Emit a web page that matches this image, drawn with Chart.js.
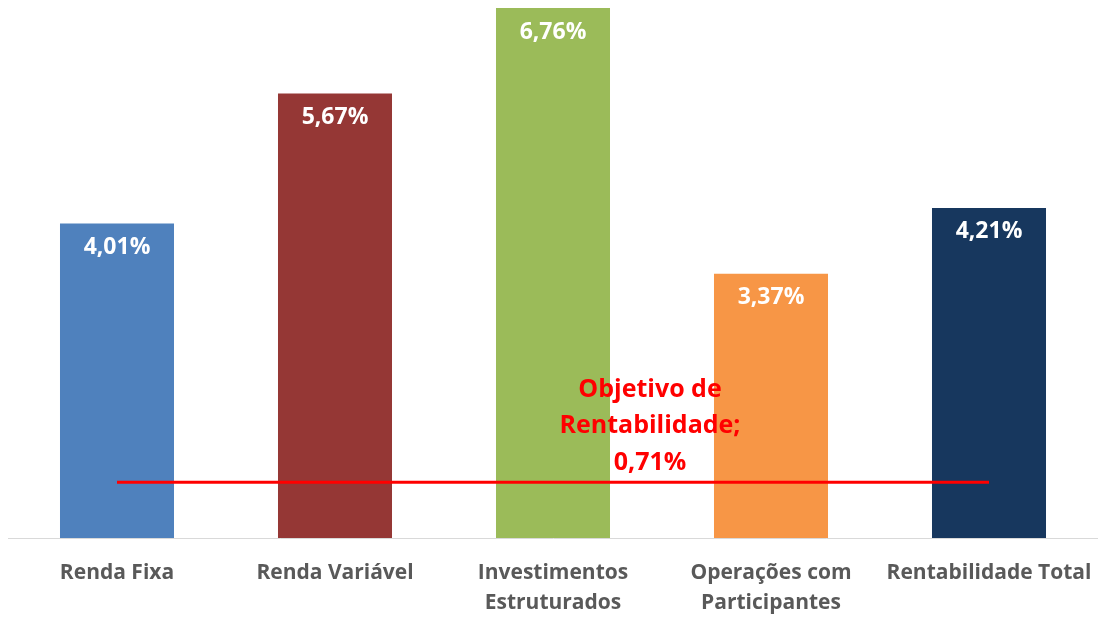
<!DOCTYPE html>
<html>
<head>
<meta charset="utf-8">
<script src="https://cdn.jsdelivr.net/npm/chart.js@4"></script>
<style>
html,body{margin:0;padding:0;background:#fff;}
#wrap{width:1098px;height:618px;position:relative;}
</style>
</head>
<body>
<div id="wrap"><canvas id="c" width="1098" height="618"></canvas></div>
<script>
const categories = [["Renda Fixa"], ["Renda Variável"], ["Investimentos", "Estruturados"], ["Operações com", "Participantes"], ["Rentabilidade Total"]];
const rentabilidade = [4.01, 5.67, 6.76, 3.37, 4.21];
const objetivo = [0.71, 0.71, 0.71, 0.71, 0.71];
const objetivoLabel = ["Objetivo de", "Rentabilidade;", "0,71%"];
const barColors = ["#4F81BD", "#953735", "#9BBB59", "#F79646", "#17375E"];

const fmt = v => v.toFixed(2).replace('.', ',') + '%';

const labelPlugin = {
  id: 'labels',
  afterDatasetsDraw(chart) {
    const ctx = chart.ctx;
    const meta = chart.getDatasetMeta(1);
    ctx.save();
    ctx.font = 'bold 23px "Open Sans"';
    ctx.fillStyle = '#ffffff';
    ctx.textAlign = 'center';
    ctx.textBaseline = 'middle';
    meta.data.forEach((el, i) => {
      ctx.fillText(fmt(rentabilidade[i]), el.x, el.y + 24);
    });
    const lm = chart.getDatasetMeta(0);
    const x = (lm.data[2].x + lm.data[3].x) / 2 - 12;
    const y = lm.data[2].y;
    ctx.font = 'bold 25px "Open Sans"';
    ctx.fillStyle = '#FF0000';
    ctx.fillText(objetivoLabel[0], x, y - 92);
    ctx.fillText(objetivoLabel[1], x, y - 56);
    ctx.fillText(objetivoLabel[2], x, y - 19);
    ctx.restore();
  }
};

new Chart(document.getElementById('c'), {
  data: {
    labels: categories,
    datasets: [
      {
        type: 'line',
        data: objetivo,
        borderColor: '#FF0000',
        borderWidth: 3,
        pointRadius: 0,
        fill: false,
        order: 0
      },
      {
        type: 'bar',
        data: rentabilidade,
        backgroundColor: barColors,
        categoryPercentage: 1,
        barPercentage: 0.523,
        order: 1
      }
    ]
  },
  options: {
    responsive: false,
    animation: false,
    layout: { padding: { left: 8, right: 0, top: 8, bottom: 0 } },
    plugins: { legend: { display: false }, tooltip: { enabled: false } },
    scales: {
      x: {
        grid: { display: false, drawTicks: false },
        border: { display: true, color: '#D9D9D9', width: 1 },
        afterFit(scale) { scale.height = 80; scale.paddingLeft = 0; scale.paddingRight = 0; },
        ticks: {
          color: '#595959',
          font: { family: '"Open Sans"', size: 21, weight: 'bold', lineHeight: 1.43 },
          padding: 20,
          maxRotation: 0,
          autoSkip: false
        }
      },
      y: {
        display: false,
        min: 0,
        max: 6.76
      }
    }
  },
  plugins: [labelPlugin]
});
</script>
</body>
</html>
